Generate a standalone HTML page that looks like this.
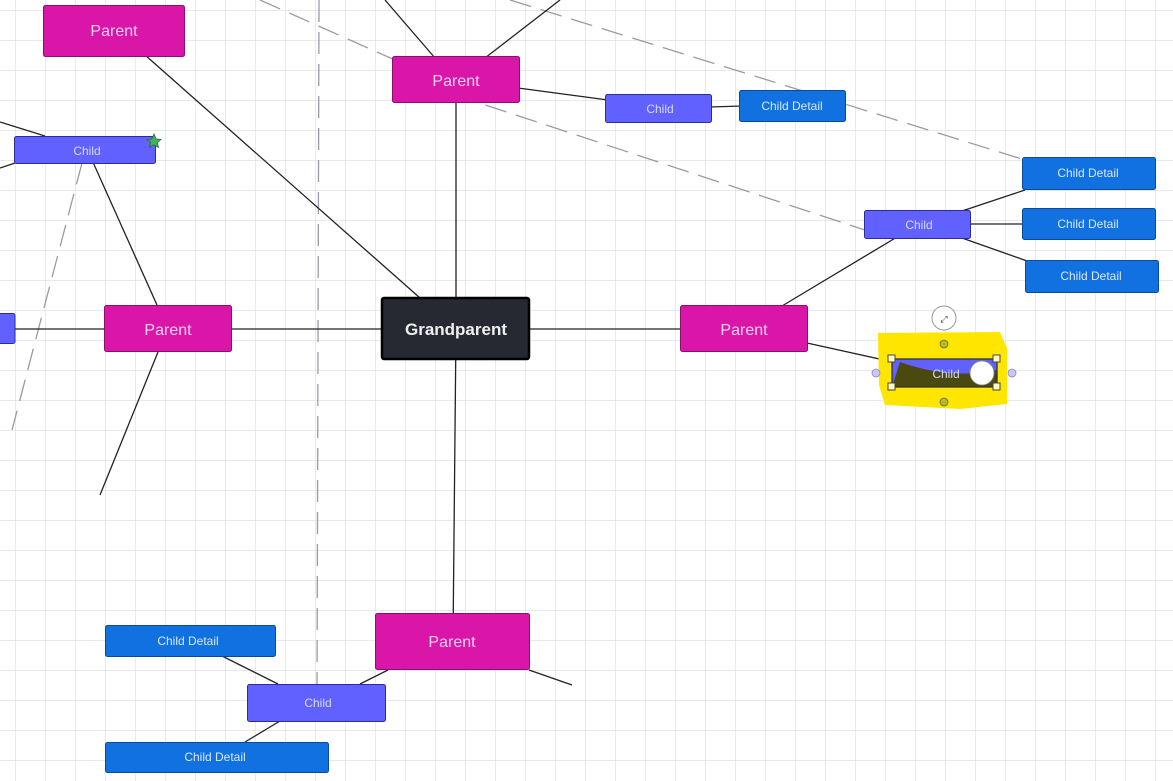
<!DOCTYPE html>
<html><head><meta charset="utf-8"><style>
html,body{margin:0;padding:0;background:#fff;}
svg{display:block;font-family:"Liberation Sans",sans-serif;}
</style></head><body>
<svg width="1173" height="781" xmlns="http://www.w3.org/2000/svg">
<defs>
<pattern id="g" x="15" y="10" width="30" height="30" patternUnits="userSpaceOnUse">
<path d="M0 0H30M0 0V30" stroke="#dcdce0" stroke-width="1.2" fill="none"/>
</pattern>
</defs>
<rect width="1173" height="781" fill="url(#g)"/>
<!-- dashed lines -->
<g stroke="#9a9aa6" stroke-width="1.3" stroke-dasharray="22,10" fill="none">
<line x1="319" y1="0" x2="317" y2="690"/>
<line x1="82" y1="163" x2="12" y2="430"/>
<line x1="260" y1="0" x2="395" y2="60"/>
<line x1="455" y1="95" x2="880" y2="235"/>
<line x1="510" y1="0" x2="1025" y2="160"/>
</g>
<!-- solid connectors -->
<g stroke="#222" stroke-width="1.3" fill="none">
<line x1="456" y1="329" x2="456" y2="100"/>
<line x1="456" y1="329" x2="168" y2="329"/>
<line x1="456" y1="329" x2="744" y2="329"/>
<line x1="456" y1="329" x2="453" y2="640"/>
<line x1="420" y1="298" x2="145" y2="55"/>
<line x1="435" y1="58" x2="385" y2="0"/>
<line x1="485" y1="58" x2="560" y2="0"/>
<line x1="518" y1="88" x2="608" y2="100"/>
<line x1="710" y1="107" x2="742" y2="106"/>
<line x1="0" y1="329" x2="105" y2="329"/>
<line x1="157" y1="305" x2="92" y2="160"/>
<line x1="158" y1="352" x2="100" y2="495"/>
<line x1="0" y1="122" x2="45" y2="136"/>
<line x1="0" y1="168" x2="15" y2="163"/>
<line x1="782" y1="306" x2="897" y2="237"/>
<line x1="962" y1="211" x2="1025" y2="190"/>
<line x1="968" y1="224" x2="1025" y2="224"/>
<line x1="962" y1="238" x2="1030" y2="262"/>
<line x1="807" y1="343" x2="893" y2="362"/>
<line x1="388" y1="670" x2="360" y2="684"/>
<line x1="529" y1="670" x2="572" y2="685"/>
<line x1="222" y1="656" x2="278" y2="684"/>
<line x1="280" y1="721" x2="245" y2="742"/>
</g>
<!-- parents -->
<g fill="#d916a8" stroke="#8a1070" stroke-width="1">
<rect x="43.5" y="5.5" width="141" height="51" rx="2"/>
<rect x="392.5" y="56.5" width="127" height="46" rx="2"/>
<rect x="104.5" y="305.5" width="127" height="46" rx="2"/>
<rect x="680.5" y="305.5" width="127" height="46" rx="2"/>
<rect x="375.5" y="613.5" width="154" height="56" rx="2"/>
</g>
<g fill="#f6d0ef" font-size="16" text-anchor="middle">
<text x="114" y="36">Parent</text>
<text x="456" y="86">Parent</text>
<text x="168" y="335">Parent</text>
<text x="744" y="335">Parent</text>
<text x="452" y="647">Parent</text>
</g>
<!-- grandparent -->
<rect x="382" y="298" width="147" height="61" rx="2" fill="#262932" stroke="#000" stroke-width="2.5"/>
<text x="456" y="335" fill="#f0f0f0" font-size="17" font-weight="bold" text-anchor="middle">Grandparent</text>
<!-- children -->
<g fill="#6161ff" stroke="#2c2c9a" stroke-width="1">
<rect x="14.5" y="136.5" width="141" height="27" rx="2"/>
<rect x="605.5" y="94.5" width="106" height="28" rx="2"/>
<rect x="864.5" y="210.5" width="106" height="28" rx="2"/>
<rect x="247.5" y="684.5" width="138" height="37" rx="2"/>
<rect x="-5" y="313.5" width="20" height="30" rx="2"/>
</g>
<g fill="#d8d8ff" font-size="12" text-anchor="middle">
<text x="87" y="155">Child</text>
<text x="660" y="113">Child</text>
<text x="919" y="229">Child</text>
<text x="318" y="707">Child</text>
</g>
<!-- star -->
<polygon points="154,134 156.2,139 161,139.4 157.3,142.6 158.5,147.4 154,144.8 149.5,147.4 150.7,142.6 147,139.4 151.8,139" fill="#3fb25a" stroke="#2b6b3a" stroke-width="0.8"/>
<!-- child details -->
<g fill="#1271e0" stroke="#0b4a96" stroke-width="1">
<rect x="739.5" y="90.5" width="106" height="31" rx="2"/>
<rect x="1022.5" y="157.5" width="133" height="32" rx="2"/>
<rect x="1022.5" y="208.5" width="133" height="31" rx="2"/>
<rect x="1025.5" y="260.5" width="133" height="32" rx="2"/>
<rect x="105.5" y="625.5" width="170" height="31" rx="2"/>
<rect x="105.5" y="742.5" width="223" height="30" rx="2"/>
</g>
<g fill="#d8e8ff" font-size="12" text-anchor="middle">
<text x="792" y="110">Child Detail</text>
<text x="1088" y="177">Child Detail</text>
<text x="1088" y="228">Child Detail</text>
<text x="1091" y="280">Child Detail</text>
<text x="188" y="645">Child Detail</text>
<text x="215" y="761">Child Detail</text>
</g>
<!-- highlighted selected child -->
<path d="M878,333 L1000,332 L1007,348 L1007,404 L960,409 L885,405 L879,385 Z" fill="#ffe600"/>
<rect x="892" y="359" width="105" height="28" fill="#6161ff"/>
<path d="M892,387 L997,387 L997,370 Q950,380 900,362 Z" fill="#4a4a10"/>
<rect x="892" y="359" width="105" height="28" fill="none" stroke="#333" stroke-width="1.3"/>
<text x="946" y="378" fill="#d8d8ff" font-size="12" text-anchor="middle">Child</text>
<circle cx="982" cy="373" r="12" fill="#fff" stroke="#888" stroke-width="0.8"/>
<g fill="#fffbc0" stroke="#444" stroke-width="1">
<rect x="888" y="355" width="7" height="7"/><rect x="993" y="355" width="7" height="7"/>
<rect x="888" y="383" width="7" height="7"/><rect x="993" y="383" width="7" height="7"/>
</g>
<circle cx="944" cy="344" r="4" fill="#b8b822" stroke="#666" stroke-width="0.8"/>
<circle cx="944" cy="402" r="4" fill="#b8b822" stroke="#666" stroke-width="0.8"/>
<circle cx="876" cy="373" r="4" fill="#c8c8f0" stroke="#8888cc" stroke-width="0.8"/>
<circle cx="1012" cy="373" r="4" fill="#c8c8f0" stroke="#8888cc" stroke-width="0.8"/>
<circle cx="944" cy="318" r="12" fill="#fff" stroke="#999" stroke-width="1"/>
<text x="944" y="322" font-size="9" text-anchor="middle" fill="#333">⤢</text>
</svg>
</body></html>
